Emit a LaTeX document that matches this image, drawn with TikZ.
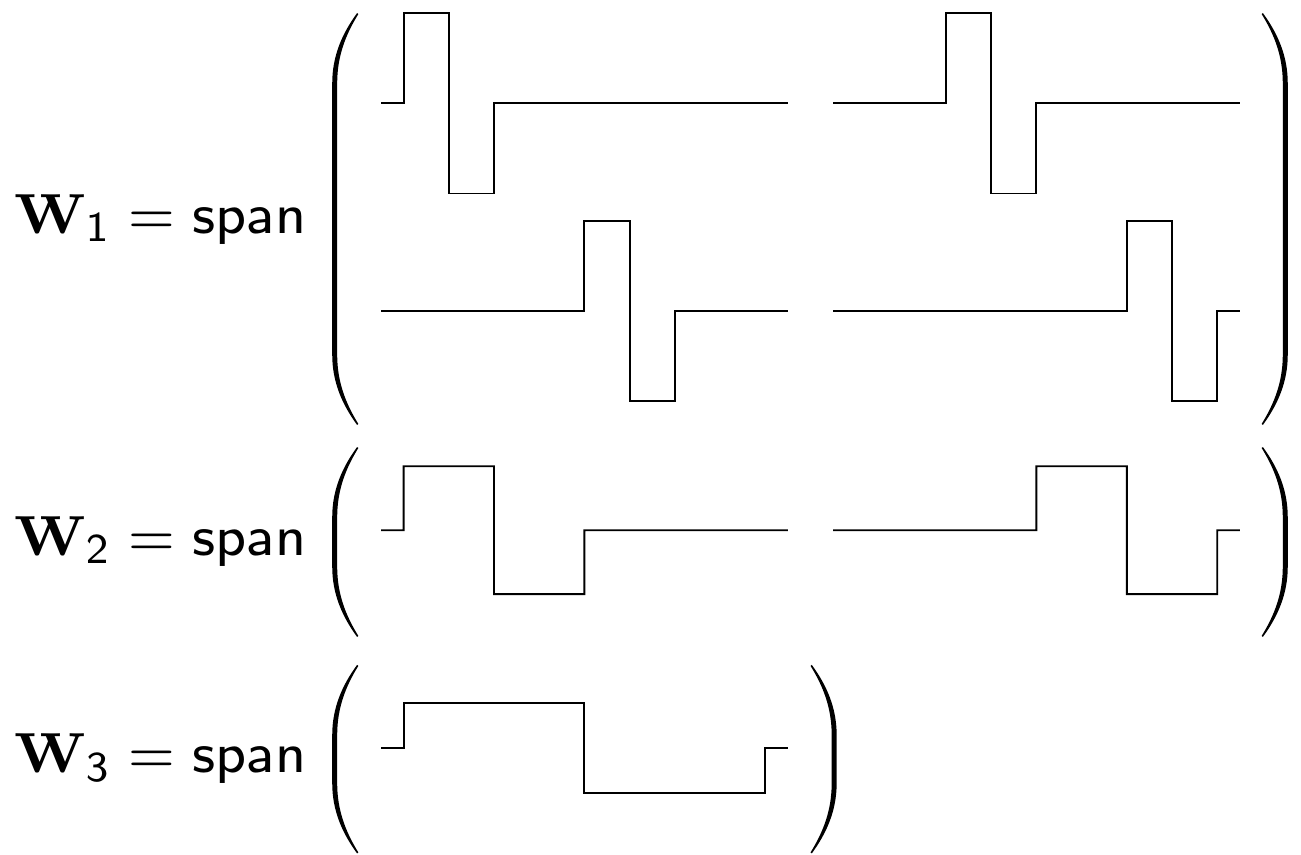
\documentclass[tikz,border=0pt]{standalone}
\usepackage{amsmath}
\usepackage{graphicx}
\usepackage{tikz}
\usetikzlibrary{positioning, calc}

\DeclareMathSizes{8}{8}{6.5}{5}

\tikzset{
  haar line/.style={line width=1.2pt, line join=miter},
  label text/.style={anchor=base east, inner sep=0pt, font=\footnotesize}
}

% one Haar wavelet: origin, place of the rise, half width, amplitude
\newcommand\haarwave[5]{%
  \draw[haar line] (#1,#2) -- ++(#3,0) -- ++(0,#5) -- ++(#4,0) -- ++(0,-2*#5)
    -- ++(#4,0) -- ++(0,#5) -- (#1+9,#2);}

% a tall parenthesis: tip x, top y, bottom y, side (1 = left, -1 = right)
\newcommand\bigparen[4]{%
  \begin{scope}[xshift=#1cm, xscale=#4]
    \fill (0,#2) .. controls (-0.33,#2-0.45) and (-0.55,#2-0.95) .. (-0.55,#2-1.55)
      -- (-0.55,#3+1.55) .. controls (-0.55,#3+0.95) and (-0.33,#3+0.45) .. (0,#3)
      -- (0.028,#3+0.021) .. controls (-0.25,#3+0.47) and (-0.44,#3+0.95) .. (-0.44,#3+1.55)
      -- (-0.44,#2-1.55) .. controls (-0.44,#2-0.95) and (-0.25,#2-0.47) .. (0.028,#2-0.021)
      -- cycle;
  \end{scope}}

\newcommand\spanlabel[1]{\scalebox{4.45}{$\mathbf{W}_{\mathsf{#1}} = \mathsf{span}$}}

\begin{document}
\begin{tikzpicture}
    \useasboundingbox (0,0) rectangle (28.783,-18.894);
    % Labels
    \node[label text] (w1) at (6.78,-5.155) {\spanlabel{1}};
    \node[label text] (w2) at (6.78,-12.28) {\spanlabel{2}};
    \node[label text] (w3) at (6.78,-17.10) {\spanlabel{3}};
    % Parentheses
    \bigparen{7.90}{-0.29}{-9.40}{1}
    \bigparen{27.94}{-0.29}{-9.40}{-1}
    \bigparen{7.90}{-9.89}{-14.09}{1}
    \bigparen{27.94}{-9.89}{-14.09}{-1}
    \bigparen{7.90}{-14.71}{-18.88}{1}
    \bigparen{17.96}{-14.71}{-18.88}{-1}
    % Wavelets of W1
    \haarwave{8.43}{-2.28}{0.5}{1}{2}
    \haarwave{18.43}{-2.28}{2.5}{1}{2}
    \haarwave{8.43}{-6.88}{4.5}{1}{2}
    \haarwave{18.43}{-6.88}{6.5}{1}{2}
    % Wavelets of W2
    \haarwave{8.43}{-11.73}{0.5}{2}{1.414}
    \haarwave{18.43}{-11.73}{4.5}{2}{1.414}
    % Wavelet of W3
    \haarwave{8.43}{-16.55}{0.5}{4}{1}
\end{tikzpicture}
\end{document}
